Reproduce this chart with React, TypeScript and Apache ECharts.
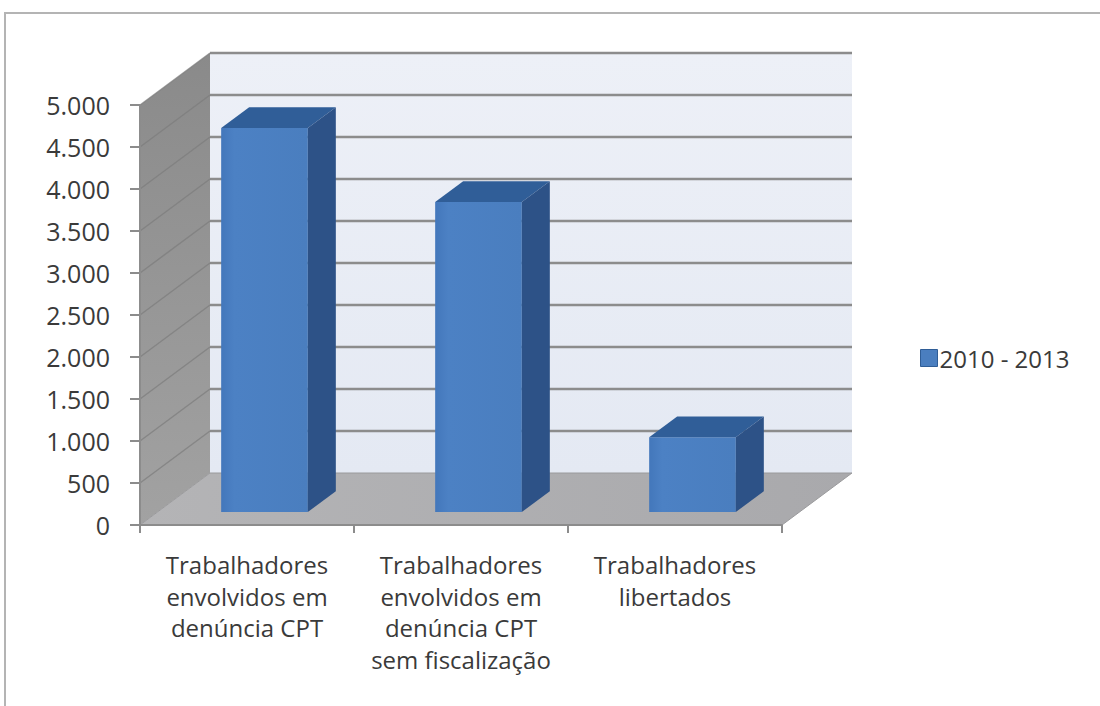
import React, { useEffect, useRef } from "react";
import * as echarts from "echarts";

const categories = [
  "Trabalhadores\nenvolvidos em\ndenúncia CPT",
  "Trabalhadores\nenvolvidos em\ndenúncia CPT\nsem fiscalização",
  "Trabalhadores\nlibertados",
];
const seriesName = "2010 - 2013";
const values = [4570, 3690, 890];
const yTicks = [0, 500, 1000, 1500, 2000, 2500, 3000, 3500, 4000, 4500, 5000];

const DEPTH_X = 70;
const DEPTH_Y = -52;
const BAR_FRONT = 0.25;
const BAR_BACK = 0.65;
const BAR_WIDTH = 0.405;
const FONT = "'Open Sans', Lato, sans-serif";

function fmt(v: number): string {
  return String(v).replace(/\B(?=(\d{3})+(?!\d))/g, ".");
}

export default function App() {
  const ref = useRef<HTMLDivElement>(null);
  useEffect(() => {
    if (!ref.current) return;
    const chart = echarts.init(ref.current, null, { renderer: "svg" });
    const option: any = {
      animation: false,
      backgroundColor: "#ffffff",
      textStyle: { fontFamily: FONT },
      graphic: [
        {
          type: "rect",
          shape: { x: 5, y: 13, width: 1200, height: 900 },
          style: { fill: "none", stroke: "#b4b4b4", lineWidth: 2 },
          silent: true,
          z: -1,
        },
      ],
      grid: { left: 140, top: 105, width: 642, height: 420 },
      legend: {
        left: 915,
        top: 341,
        itemWidth: 17,
        itemHeight: 17,
        itemGap: 6,
        icon: "rect",
        data: [seriesName],
        itemStyle: { borderColor: "#2f5d96", borderWidth: 1 },
        textStyle: { fontSize: 24, color: "#3a3a3a", fontFamily: FONT, padding: [0, 0, 0, -3] },
      },
      xAxis: {
        type: "category",
        data: categories,
        z: 10,
        axisLine: { show: true, lineStyle: { color: "#8c8c8c", width: 2 } },
        axisTick: { show: true, length: 8, lineStyle: { color: "#8c8c8c", width: 2 } },
        axisLabel: {
          interval: 0,
          margin: 24,
          fontSize: 24,
          lineHeight: 31.5,
          color: "#3a3a3a",
          fontFamily: FONT,
        },
        splitLine: { show: false },
      },
      yAxis: {
        type: "value",
        min: 0,
        max: 5000,
        interval: 500,
        z: 10,
        axisLine: { show: true, lineStyle: { color: "#8c8c8c", width: 2 } },
        axisTick: { show: true, length: 10, lineStyle: { color: "#8c8c8c", width: 2 } },
        axisLabel: {
          margin: 30,
          fontSize: 25,
          color: "#3a3a3a",
          fontFamily: FONT,
          formatter: (v: number) => fmt(v),
        },
        splitLine: { show: false },
      },
      series: [
        {
          type: "custom",
          name: "walls",
          silent: true,
          z: 1,
          data: [[0, 0]],
          renderItem: (params: any, api: any) => {
            const cs = params.coordSys;
            const x0 = cs.x, x1 = cs.x + cs.width;
            const yb = cs.y + cs.height, yt = cs.y;
            return {
              type: "group",
              children: [
                {
                  type: "rect",
                  shape: { x: x0 + DEPTH_X, y: yt + DEPTH_Y, width: cs.width, height: cs.height },
                  style: {
                    fill: new echarts.graphic.LinearGradient(0, 0, 0, 1, [
                      { offset: 0, color: "#edf0f7" },
                      { offset: 1, color: "#e4e9f3" },
                    ]),
                  },
                },
                {
                  type: "polygon",
                  shape: {
                    points: [
                      [x0, yb],
                      [x0, yt],
                      [x0 + DEPTH_X, yt + DEPTH_Y],
                      [x0 + DEPTH_X, yb + DEPTH_Y],
                    ],
                  },
                  style: {
                    fill: new echarts.graphic.LinearGradient(0, 0, 0, 1, [
                      { offset: 0, color: "#8a8a8a" },
                      { offset: 1, color: "#a2a2a2" },
                    ]),
                  },
                },
                {
                  type: "polygon",
                  shape: {
                    points: [
                      [x0, yb],
                      [x0 + DEPTH_X, yb + DEPTH_Y],
                      [x1 + DEPTH_X, yb + DEPTH_Y],
                      [x1, yb],
                    ],
                  },
                  style: {
                    fill: new echarts.graphic.LinearGradient(0, 0, 1, 0, [
                      { offset: 0, color: "#b4b4b6" },
                      { offset: 1, color: "#a9a9ac" },
                    ]),
                    stroke: "#9a9a9c",
                    lineWidth: 1,
                  },
                },
              ],
            };
          },
        },
        {
          type: "custom",
          name: "gridlines",
          silent: true,
          z: 2,
          data: yTicks.filter((v) => v > 0).map((v) => [0, v]),
          renderItem: (params: any, api: any) => {
            const cs = params.coordSys;
            const x0 = cs.x, x1 = cs.x + cs.width;
            const y = api.coord([0, api.value(1)])[1];
            return {
              type: "group",
              children: [
                {
                  type: "line",
                  shape: { x1: x0 + DEPTH_X, y1: y + DEPTH_Y, x2: x1 + DEPTH_X, y2: y + DEPTH_Y },
                  style: { stroke: "#8c8c8c", lineWidth: 2.5 },
                },
                {
                  type: "line",
                  shape: { x1: x0, y1: y, x2: x0 + DEPTH_X, y2: y + DEPTH_Y },
                  style: { stroke: "#7c7c7c", lineWidth: 1.5, opacity: 0.7 },
                },
              ],
            };
          },
        },
        {
          type: "custom",
          name: seriesName,
          z: 3,
          itemStyle: { color: "#4a7ebf" },
          data: values.map((v, i) => [i, v]),
          renderItem: (params: any, api: any) => {
            const i = api.value(0);
            const v = api.value(1);
            const base = api.coord([i, 0]);
            const top = api.coord([i, v]);
            const band = api.size([1, 0])[0];
            const w = band * BAR_WIDTH;
            const fdx = DEPTH_X * BAR_FRONT, fdy = DEPTH_Y * BAR_FRONT;
            const bdx = DEPTH_X * BAR_BACK, bdy = DEPTH_Y * BAR_BACK;
            const lx = base[0] - w / 2, rx = base[0] + w / 2;
            const yb = base[1], yt = top[1];
            const FLT = [lx + fdx, yt + fdy];
            const FRT = [rx + fdx, yt + fdy];
            const FRB = [rx + fdx, yb + fdy];
            const FLB = [lx + fdx, yb + fdy];
            const BLT = [lx + bdx, yt + bdy];
            const BRT = [rx + bdx, yt + bdy];
            const BRB = [rx + bdx, yb + bdy];
            return {
              type: "group",
              children: [
                {
                  type: "polygon",
                  shape: { points: [FLT, FRT, FRB, FLB] },
                  style: {
                    fill: new echarts.graphic.LinearGradient(0, 0, 1, 0, [
                      { offset: 0, color: "#4377bb" },
                      { offset: 0.15, color: "#4c81c4" },
                      { offset: 1, color: "#4a7ebf" },
                    ]),
                  },
                },
                {
                  type: "polygon",
                  shape: { points: [FLT, FRT, BRT, BLT] },
                  style: { fill: "#305e98" },
                },
                {
                  type: "polygon",
                  shape: { points: [FRT, BRT, BRB, FRB] },
                  style: { fill: "#2d5287" },
                },
              ],
            };
          },
        },
      ],
    };
    chart.setOption(option);
    return () => chart.dispose();
  }, []);
  return (
    <div
      ref={ref}
      style={{ position: "fixed", left: 0, top: 0, width: 1100, height: 706 }}
    />
  );
}
